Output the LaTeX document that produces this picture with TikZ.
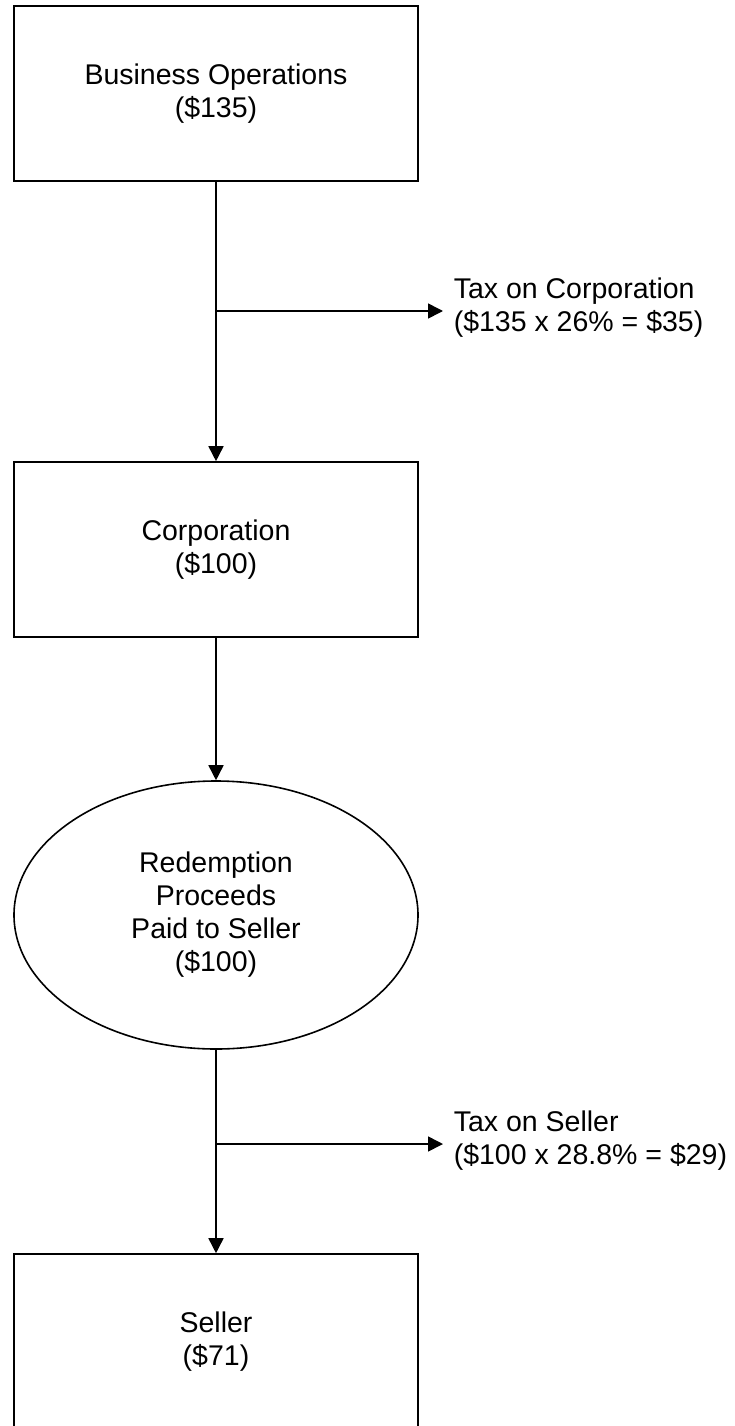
\documentclass[tikz,border=0pt]{standalone}
\usepackage{fontspec}
\setmainfont{Liberation Sans}
\usetikzlibrary{arrows.meta}
\usetikzlibrary{shapes}

\begin{document}
\begin{tikzpicture}[x=1pt, y=-1pt, line width=1.6pt,
        font=\fontsize{28.5}{33}\selectfont,
        box/.style={draw=black, rectangle, minimum width=404pt, minimum height=175pt, align=center, inner sep=0pt},
        oval/.style={draw=black, ellipse, minimum width=404pt, minimum height=268pt, align=center, inner sep=0pt},
        flow/.style={-{Triangle[length=15pt, width=15pt]}},
        taxnote/.style={anchor=west, align=left, inner xsep=10pt, inner ysep=0pt}]
        	\useasboundingbox (0,0) rectangle (735,1426);
        	\node [box] (ops) at (216,93.5) {Business Operations\\(\$135)};
        	\node [box] (corp) at (216,549.5) {Corporation\\(\$100)};
        	\node [oval] (redeem) at (216,915) {Redemption\\Proceeds\\Paid to Seller\\(\$100)};
        	\node [box] (seller) at (216,1341.5) {Seller\\(\$71)};
        	\node [taxnote] (taxcorp) at (443,308) {Tax on Corporation\\(\$135 x 26\% = \$35)};
        	\node [taxnote] (taxseller) at (443,1141) {Tax on Seller\\(\$100 x 28.8\% = \$29)};
        	\coordinate (split1) at (216,311);
        	\coordinate (split2) at (216,1144);
        	\draw [flow] (ops) -- (corp);
        	\draw [flow] (corp) -- (redeem);
        	\draw [flow] (redeem) -- (seller);
        	\draw [flow] (split1) -- (split1 -| taxcorp.west);
        	\draw [flow] (split2) -- (split2 -| taxseller.west);
        \end{tikzpicture}
\end{document}
